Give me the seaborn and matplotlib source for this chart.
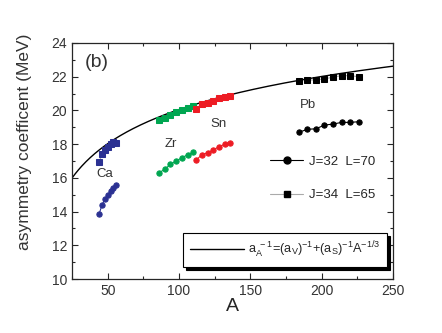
import numpy as np
import pandas as pd
import seaborn as sns
import matplotlib.pyplot as plt
from matplotlib.lines import Line2D

# mass numbers of the isotope chains
A_ca = [44, 46, 48, 50, 52, 54, 56]
A_zr = [86, 90, 94, 98, 102, 106, 110]
A_sn = [112, 116, 120, 124, 128, 132, 136]
A_pb = [184, 190, 196, 202, 208, 214, 220, 226]

# J=32 L=70 (circles)
ca_32 = [13.86, 14.39, 14.73, 14.98, 15.22, 15.42, 15.58]
zr_32 = [16.30, 16.51, 16.80, 17.00, 17.19, 17.37, 17.51]
sn_32 = [17.06, 17.37, 17.49, 17.65, 17.85, 17.99, 18.08]
pb_32 = [18.70, 18.88, 18.91, 19.13, 19.19, 19.29, 19.29, 19.33]

# J=34 L=65 (squares)
ca_34 = [16.96, 17.40, 17.66, 17.85, 18.03, 18.15, 18.07]
zr_34 = [19.43, 19.53, 19.73, 19.89, 20.02, 20.12, 20.26]
sn_34 = [20.10, 20.40, 20.46, 20.58, 20.74, 20.80, 20.84]
pb_34 = [21.74, 21.79, 21.82, 21.86, 21.98, 22.06, 22.06, 22.00]

# fit parameters of the a_A curve
a_V = 35.3
a_S = 10.0

col_ca = '#2b3192'
col_zr = '#00a651'
col_sn = '#ed1c24'
col_pb = 'black'

sns.set_style('ticks')
plt.rcParams['font.family'] = ['Liberation Sans', 'DejaVu Sans']
plt.rcParams['mathtext.default'] = 'regular'

fig = plt.figure(figsize=(4.42, 3.33), dpi=100)
ax = fig.add_axes([0.163, 0.162, 0.726, 0.709])

A_fit = np.linspace(25, 250, 300)
a_fit = 1.0 / (1.0 / a_V + A_fit ** (-1.0 / 3.0) / a_S)
sns.lineplot(x=A_fit, y=a_fit, color='black', lw=1.0, ax=ax)

chains = [(A_ca, ca_32, ca_34, col_ca), (A_zr, zr_32, zr_34, col_zr),
          (A_sn, sn_32, sn_34, col_sn), (A_pb, pb_32, pb_34, col_pb)]
for A, v32, v34, c in chains:
    sns.lineplot(x=A, y=v32, color=c, marker='o', markersize=3.8,
                 markeredgecolor=c, lw=0.8, ax=ax)
    sns.lineplot(x=A, y=v34, color='#aaaaaa', marker='s', markersize=3.8,
                 markerfacecolor=c, markeredgecolor=c, lw=0.8, ax=ax)

ax.set_xlim(25, 250)
ax.set_ylim(10, 24)
ax.set_xticks([50, 100, 150, 200, 250])
ax.set_xticks([25, 75, 125, 175, 225], minor=True)
ax.set_yticks(range(10, 25, 2))
ax.set_yticks(range(11, 24, 2), minor=True)
ax.tick_params(which='both', direction='in', top=True, right=True,
               labelsize=10, labelcolor='#333333', width=0.8)
ax.tick_params(which='major', length=4)
ax.tick_params(which='minor', length=2.5)
for s in ax.spines.values():
    s.set_linewidth(0.9)
ax.set_xlabel('A', fontsize=14, labelpad=0)
ax.set_ylabel('asymmetry coefficent (MeV)', fontsize=12.5, color='#333333')
ax.yaxis.set_label_coords(-0.125, 0.58)

ax.text(0.04, 0.9, '(b)', transform=ax.transAxes, fontsize=14,
        color='#333333')
ax.text(42, 16.05, 'Ca', fontsize=9.5, color='#333333')
ax.text(90, 17.85, 'Zr', fontsize=9.5, color='#333333')
ax.text(122, 19.0, 'Sn', fontsize=9.5, color='#333333')
ax.text(185, 20.15, 'Pb', fontsize=9.5, color='#333333')

h1 = [Line2D([], [], color='black', marker='o', markersize=5, lw=0.8),
      Line2D([], [], color='#aaaaaa', marker='s', markersize=5, lw=0.8,
             markerfacecolor='black', markeredgecolor='black')]
leg1 = ax.legend(h1, ['J=32  L=70', 'J=34  L=65'], loc='upper left',
                 bbox_to_anchor=(0.617, 0.522), frameon=False, fontsize=9.5,
                 borderpad=0, borderaxespad=0, labelspacing=1.6,
                 handlelength=2.5, handletextpad=0.45)
ax.add_artist(leg1)

h2 = [Line2D([], [], color='black', lw=1.0)]
leg2 = ax.legend(h2, [r'$a_A^{\ -1}$=(a$_V$)$^{-1}$+(a$_S$)$^{-1}$A$^{-1/3}$'],
                 loc='lower right', bbox_to_anchor=(0.981, 0.051),
                 fontsize=9.2, fancybox=False, edgecolor='black',
                 framealpha=1, borderpad=0.55, borderaxespad=0,
                 handlelength=4.2, handletextpad=0.3,
                 shadow={'color': 'black', 'alpha': 1})
leg2.get_frame().set_linewidth(0.8)

fig.savefig('out.png', dpi=100)
